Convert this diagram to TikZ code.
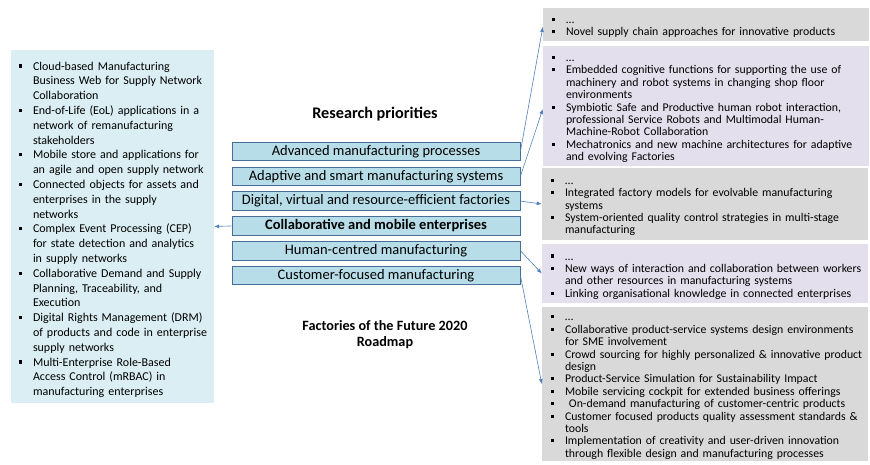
\documentclass[tikz,border=0pt]{standalone}
\usepackage{fontspec}
\setmainfont{Carlito}
\usetikzlibrary{arrows.meta}
\definecolor{leftfill}{RGB}{218,238,243}
\definecolor{midfill}{RGB}{183,222,232}
\definecolor{midborder}{RGB}{70,110,150}
\definecolor{grayfill}{RGB}{217,217,217}
\definecolor{lavfill}{RGB}{228,223,236}
\definecolor{connblue}{RGB}{79,129,189}
\newlength\bind
\newlength\bpre
\setlength\parskip{0pt}
\hyphenpenalty=10000
\exhyphenpenalty=10000
\newcommand\bitem[1]{\par\noindent\hangindent=\bind\hangafter=1\makebox[\bind][l]{\hspace{\bpre}\raisebox{2.5pt}{\rule{3.1pt}{3.1pt}}}#1\par}
\begin{document}
\begin{tikzpicture}[x=1pt,y=-1pt,
  listbox/.style={rectangle, inner ysep=0pt, inner xsep=1pt, align=left},
  leftlist/.style={listbox, fill=leftfill, minimum width=203pt, text width=201pt, font=\fontsize{12.0}{14.8}\selectfont\setlength\bind{21pt}\setlength\bpre{7pt}},
  rightlist/.style={listbox, minimum width=326pt, text width=324pt, font=\fontsize{11.8}{12.4}\selectfont\setlength\bind{22pt}\setlength\bpre{8pt}},
  prio/.style={rectangle, draw=midborder, line width=0.8pt, fill=midfill, minimum width=288pt, minimum height=18.5pt, inner sep=0pt, font=\fontsize{14.5}{16}\selectfont},
  conn/.style={draw=connblue, line width=0.6pt, -{Latex[length=5pt,width=4pt]}},
  heading/.style={font=\bfseries\fontsize{16.2}{18}\selectfont, align=center}
]
\useasboundingbox (0,0) rectangle (870,464);

% left box
\node[leftlist, minimum height=353pt] (left) at (112.5,226.5) {%
\bitem{Cloud-based Manufacturing\newline Business Web for Supply Network\newline Collaboration}
\bitem{End-of-Life (EoL) applications in a\newline network of remanufacturing\newline stakeholders}
\bitem{Mobile store and applications for\newline an agile and open supply network}
\bitem{Connected objects for assets and\newline enterprises in the supply\newline networks}
\bitem{Complex Event Processing (CEP)\newline for state detection and analytics\newline in supply networks}
\bitem{Collaborative Demand and Supply\newline Planning, Traceability, and\newline Execution}
\bitem{Digital Rights Management (DRM)\newline of products and code in enterprise\newline supply networks}
\bitem{Multi-Enterprise Role-Based\newline Access Control (mRBAC) in\newline manufacturing enterprises}};

% headings
\node[heading] (rp) at (375,114) {Research priorities};
\node[heading, font=\bfseries\fontsize{14.2}{15.5}\selectfont] (fof) at (385,334.5) {Factories of the Future 2020\\Roadmap};

% priorities
\node[prio] (m1) at (376,151.5) {Advanced manufacturing processes};
\node[prio] (m2) at (376,176.3) {Adaptive and smart manufacturing systems};
\node[prio] (m3) at (376,201.1) {Digital, virtual and resource-efficient factories};
\node[prio, font=\bfseries\fontsize{14.5}{16}\selectfont] (m4) at (376,225.9) {Collaborative and mobile enterprises};
\node[prio] (m5) at (376,250.7) {Human-centred manufacturing};
\node[prio] (m6) at (376,275.5) {Customer-focused manufacturing};

% right boxes
\node[rightlist, fill=grayfill, minimum height=33pt] (r1) at (706,24.5) {%
\bitem{…}
\bitem{Novel supply chain approaches for innovative products}};
\node[rightlist, fill=lavfill, minimum height=120pt] (r2) at (706,106) {%
\bitem{…}
\bitem{Embedded cognitive functions for supporting the use of\newline machinery and robot systems in changing shop floor\newline environments}
\bitem{Symbiotic Safe and Productive human robot interaction,\newline professional Service Robots and Multimodal Human-\newline Machine-Robot Collaboration}
\bitem{Mechatronics and new machine architectures for adaptive\newline and evolving Factories}};
\node[rightlist, fill=grayfill, minimum height=72pt] (r3) at (705,204) {%
\bitem{…}
\bitem{Integrated factory models for evolvable manufacturing\newline systems}
\bitem{System-oriented quality control strategies in multi-stage\newline manufacturing}};
\node[rightlist, fill=lavfill, minimum height=59pt] (r4) at (705,273.5) {%
\bitem{…}
\bitem{New ways of interaction and collaboration between workers\newline and other resources in manufacturing systems}
\bitem{Linking organisational knowledge in connected enterprises}};
\node[rightlist, fill=grayfill, minimum height=154pt] (r5) at (705,384) {%
\bitem{…}
\bitem{Collaborative product-service systems design environments\newline for SME involvement}
\bitem{Crowd sourcing for highly personalized \& innovative product\newline design}
\bitem{Product-Service Simulation for Sustainability Impact}
\bitem{Mobile servicing cockpit for extended business offerings}
\bitem{\ On-demand manufacturing of customer-centric products}
\bitem{Customer focused products quality assessment standards \&\newline tools}
\bitem{Implementation of creativity and user-driven innovation\newline through flexible design and manufacturing processes}};

% connectors
\draw[conn] (m1.east) -- ([yshift=-2.5pt]r1.west);
\draw[conn] (m2.east) -- ([yshift=-3pt]r2.west);
\draw[conn] (m3.east) -- (r3.west);
\draw[conn] (m4.west) -- (left.east);
\draw[conn] (m5.east) -- (r4.west);
\draw[conn] (m6.east) -- (r5.west);
\end{tikzpicture}
\end{document}
